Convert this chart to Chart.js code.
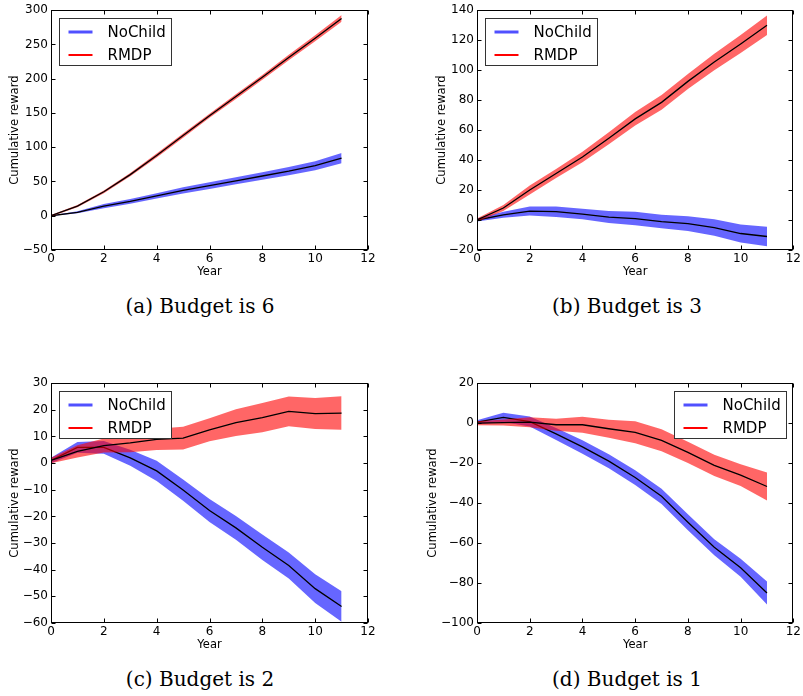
<!DOCTYPE html>
<html>
<head>
<meta charset="utf-8">
<title>Cumulative reward by budget</title>
<script src="https://cdn.jsdelivr.net/npm/chart.js"></script>
<style>
    body { margin: 0; background: #fff; }
    #page { position: relative; width: 803px; height: 696px; overflow: hidden; }
    .panel { position: absolute; }
    .caption { position: absolute; transform: translate(-50%, -50%); white-space: nowrap;
               font-family: "DejaVu Serif", serif; font-size: 20px; color: #000; }
</style>
</head>
<body>
<div id="page">
    <div class="panel" style="left:0;top:0"><canvas id="c0" width="400" height="290"></canvas></div>
    <div class="panel" style="left:400px;top:0"><canvas id="c1" width="403" height="290"></canvas></div>
    <div class="panel" style="left:0;top:373px"><canvas id="c2" width="400" height="290"></canvas></div>
    <div class="panel" style="left:400px;top:373px"><canvas id="c3" width="403" height="290"></canvas></div>
    <div class="caption" id="cap0" style="left:200px;top:306px"></div>
    <div class="caption" id="cap1" style="left:627px;top:306px"></div>
    <div class="caption" id="cap2" style="left:200px;top:679px"></div>
    <div class="caption" id="cap3" style="left:627px;top:679px"></div>
</div>
<script>
// data
const years = [0, 1, 2, 3, 4, 5, 6, 7, 8, 9, 10, 11];
const seriesNames = ['NoChild', 'RMDP'];
const captions = ['(a) Budget is 6', '(b) Budget is 3', '(c) Budget is 2', '(d) Budget is 1'];

const noChild6 = [0, 5, 14, 21, 29, 37, 44, 51, 58, 65, 73, 84];
const noChild6Spread = [0.5, 1.5, 3, 3.5, 4, 4.5, 5, 5, 5.5, 6, 6.5, 7.5];
const rmdp6 = [0, 14, 35, 60, 88, 117, 146, 174, 202, 231, 259, 288];
const rmdp6Spread = [1, 1.5, 2, 2.5, 3, 3, 3, 3.5, 3.5, 4, 4.5, 5];

const noChild3 = [0, 3.5, 6, 5.6, 4, 2, 1, -1, -2.4, -5, -9, -11];
const noChild3Spread = [1, 2, 3, 3.5, 3.5, 4, 4.5, 4.5, 5, 5.5, 6, 6.5];
const rmdp3 = [0, 8, 20, 31, 42, 54.5, 67.5, 78.5, 92.5, 105.5, 117.5, 130];
const rmdp3Spread = [1, 2, 3, 3, 3.5, 4, 4.5, 5, 5, 5.5, 6, 6.5];

const noChild2 = [1, 5.9, 5.9, 2, -2.9, -10.1, -17.8, -24.3, -31.6, -38.4, -47.1, -53.8];
const noChild2Spread = [1, 2, 2.4, 3, 3.8, 4, 4.3, 4.5, 4.8, 4.9, 5.4, 5.7];
const rmdp2 = [1, 4.4, 6.6, 7.6, 8.9, 9.4, 12.5, 15.2, 17.1, 19.4, 18.6, 18.8];
const rmdp2Spread = [1, 2.3, 2.6, 3.5, 4, 4.3, 4.3, 5, 5.5, 5.6, 5.8, 6.3];

const noChild1 = [0.5, 2.9, 0.8, -5.4, -11.9, -19, -27.2, -36.6, -49.6, -62.1, -72.4, -85];
const noChild1Spread = [1, 2.3, 2.5, 3, 3.4, 3.5, 3.7, 3.8, 4, 4, 4.5, 5.8];
const rmdp1 = [0, 0.3, 0.5, -0.8, -0.8, -2.8, -4.6, -8.6, -14.6, -21.1, -26, -31.7];
const rmdp1Spread = [1, 1.5, 2.5, 3, 4, 4.5, 5.5, 5.5, 5.3, 5.3, 5.5, 7];

const yMin = [-50, -20, -60, -100];
const yMax = [300, 140, 30, 20];
const yStep = [50, 20, 10, 20];

// layout / look
const panels = [
    { noChild: noChild6, ncSpread: noChild6Spread, rmdp: rmdp6, rSpread: rmdp6Spread, yw: 51, padR: 32, titlePad: 8, side: 'left' },
    { noChild: noChild3, ncSpread: noChild3Spread, rmdp: rmdp3, rSpread: rmdp3Spread, yw: 77, padR: 9, titlePad: 35, side: 'left' },
    { noChild: noChild2, ncSpread: noChild2Spread, rmdp: rmdp2, rSpread: rmdp2Spread, yw: 51, padR: 32, titlePad: 8, side: 'left' },
    { noChild: noChild1, ncSpread: noChild1Spread, rmdp: rmdp1, rSpread: rmdp1Spread, yw: 77, padR: 9, titlePad: 26, side: 'right' }
];
const bandColors = ['rgba(0,0,255,0.6)', 'rgba(255,0,0,0.6)'];
const handleColors = ['rgb(80,80,255)', 'rgb(255,0,0)'];
const handleWidths = [3, 2];

const minus = v => String(v).replace('-', '\u2212');
const pts = (arr, f) => years.map((x, i) => ({ x: x, y: f ? f(arr[i], i) : arr[i] }));

// box with inward ticks on all four sides, like matplotlib
const frame = {
    id: 'frame',
    afterDatasetsDraw(chart) {
        const { ctx, chartArea: a, scales: { x, y } } = chart;
        const L = Math.round(a.left) + 0.5, R = Math.round(a.right) - 0.5;
        const T = Math.round(a.top) + 0.5, B = Math.round(a.bottom) - 0.5;
        ctx.save();
        ctx.strokeStyle = '#000';
        ctx.lineWidth = 1;
        ctx.beginPath();
        x.ticks.forEach(t => {
            const px = Math.round(x.getPixelForValue(t.value)) + 0.5;
            ctx.moveTo(px, B); ctx.lineTo(px, B - 4);
            ctx.moveTo(px, T); ctx.lineTo(px, T + 4);
        });
        y.ticks.forEach(t => {
            const py = Math.round(y.getPixelForValue(t.value)) + 0.5;
            ctx.moveTo(L, py); ctx.lineTo(L + 4, py);
            ctx.moveTo(R, py); ctx.lineTo(R - 4, py);
        });
        ctx.stroke();
        ctx.strokeRect(L, T, R - L, B - T);
        ctx.restore();
    }
};

const boxLegend = {
    id: 'boxLegend',
    afterDraw(chart, args, opts) {
        const { ctx, chartArea: a } = chart;
        const w = 112, h = 47;
        const x0 = Math.round(opts.side === 'right' ? a.right - 7 - w : a.left + 8) + 0.5;
        const y0 = Math.round(a.top + 8) + 0.5;
        ctx.save();
        ctx.fillStyle = '#fff';
        ctx.fillRect(x0, y0, w, h);
        ctx.strokeStyle = '#333';
        ctx.lineWidth = 1;
        ctx.strokeRect(x0, y0, w, h);
        ctx.font = '15px "DejaVu Sans"';
        ctx.textBaseline = 'middle';
        seriesNames.forEach((name, i) => {
            const cy = Math.round(y0 + 13 + i * 23);
            ctx.strokeStyle = handleColors[i];
            ctx.lineWidth = handleWidths[i];
            ctx.beginPath();
            ctx.moveTo(x0 + 9, cy);
            ctx.lineTo(x0 + 33, cy);
            ctx.stroke();
            ctx.fillStyle = '#000';
            ctx.fillText(name, x0 + 48, cy + 1);
        });
        ctx.restore();
    }
};

function makeChart(k) {
    const p = panels[k];
    const band = (mean, spread, color, order) => [
        { data: pts(mean, (m, i) => m + spread[i]), fill: '+1', backgroundColor: color,
          borderWidth: 0, pointRadius: 0, order: order },
        { data: pts(mean, (m, i) => m - spread[i]), fill: false, borderWidth: 0,
          pointRadius: 0, order: order }
    ];
    const meanLine = (mean, order) => ({ data: pts(mean), borderColor: '#000', borderWidth: 1.3,
        pointRadius: 0, fill: false, tension: 0, order: order });

    document.getElementById('cap' + k).textContent = captions[k];

    new Chart(document.getElementById('c' + k), {
        type: 'line',
        data: {
            datasets: [
                ...band(p.noChild, p.ncSpread, bandColors[0], 4),
                meanLine(p.noChild, 3),
                ...band(p.rmdp, p.rSpread, bandColors[1], 2),
                meanLine(p.rmdp, 1)
            ]
        },
        options: {
            responsive: false,
            animation: false,
            devicePixelRatio: 1,
            layout: { padding: { top: 4, right: p.padR, left: 0, bottom: 0 } },
            plugins: { legend: { display: false }, tooltip: { enabled: false },
                       boxLegend: { side: p.side } },
            scales: {
                x: {
                    type: 'linear', min: 0, max: 12,
                    grid: { display: false, drawTicks: false }, border: { display: false },
                    ticks: { stepSize: 2, padding: 2, color: '#000',
                             font: { family: 'DejaVu Sans', size: 12 } },
                    title: { display: true, text: 'Year', color: '#000',
                             padding: { top: 0, bottom: 11 },
                             font: { family: 'DejaVu Sans', size: 11.5 } },
                    afterFit: s => { s.height = 40; }
                },
                y: {
                    min: yMin[k], max: yMax[k],
                    grid: { display: false, drawTicks: false }, border: { display: false },
                    ticks: { stepSize: yStep[k], padding: 3, color: '#000', callback: minus,
                             font: { family: 'DejaVu Sans', size: 12 } },
                    title: { display: true, text: 'Cumulative reward', color: '#000',
                             padding: { top: p.titlePad, bottom: 0 },
                             font: { family: 'DejaVu Sans', size: 11.5 } },
                    afterFit: s => { s.width = p.yw; }
                }
            }
        },
        plugins: [frame, boxLegend]
    });
}

[0, 1, 2, 3].forEach(makeChart);
</script>
</body>
</html>
